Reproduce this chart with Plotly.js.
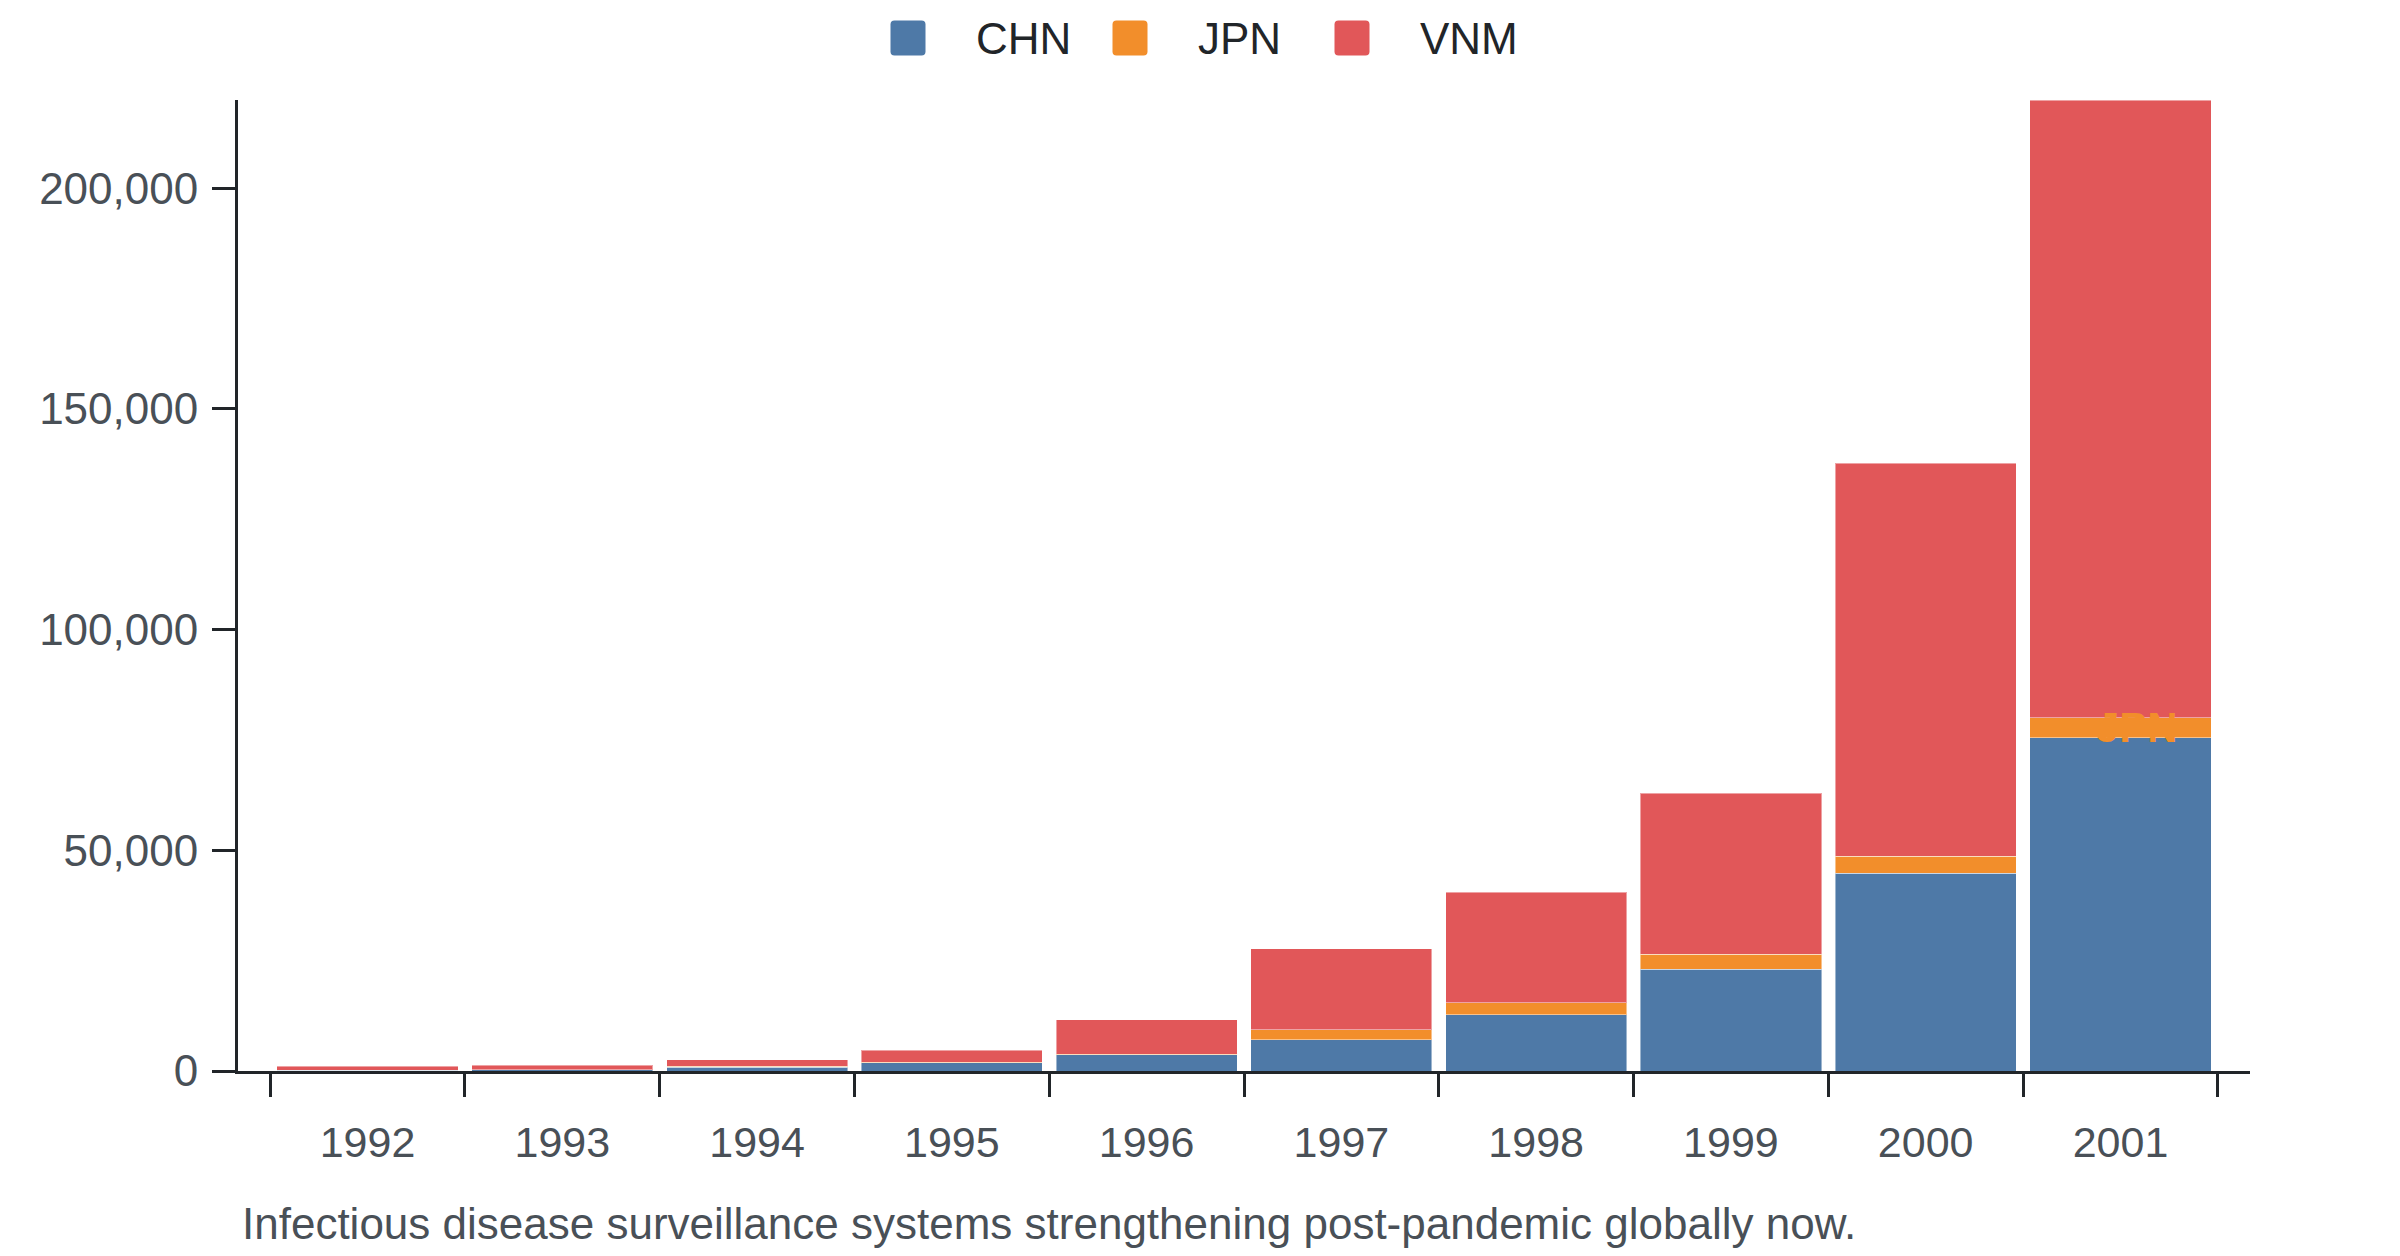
<!DOCTYPE html>
<html>
<head>
<meta charset="utf-8">
<script src="https://cdn.plot.ly/plotly-3.0.1.min.js"></script>
<style>
  html, body { margin: 0; padding: 0; background: #fff; }
  #chart { width: 2400px; height: 1256px; }
</style>
</head>
<body>
<div id="chart"></div>
<script>
let years = ["1992", "1993", "1994", "1995", "1996", "1997", "1998", "1999", "2000", "2001"]
let chn = [200, 300, 840, 1900, 3660, 7050, 12700, 23000, 44800, 75500]
let jpn = [20, 30, 200, 100, 150, 2250, 2800, 3400, 3900, 4500]
let vnm = [840, 970, 1560, 2680, 7840, 18400, 25000, 36500, 89000, 140000]
let y_ticks = [0, 50000, 100000, 150000, 200000]
let series_names = ["CHN", "JPN", "VNM"]
let colors = ["#4e79a7", "#f28e2b", "#e15759"]
let caption = "Infectious disease surveillance systems strengthening post-pandemic globally now."

const W = 2400, H = 1256
const M = { l: 238, r: 150, t: 100, b: 185 }
const ink = "#212529"
const muted = "#495057"
const font_family = "Arial, 'Liberation Sans', sans-serif"

// pixel -> paper helpers for the hand-made legend
const px = (x) => (x - M.l) / (W - M.l - M.r)
const py = (y) => (H - M.b - y) / (H - M.t - M.b)

let data = [chn, jpn, vnm].map((vals, i) => ({
  x: years,
  y: vals,
  name: series_names[i],
  type: "bar",
  marker: {
    color: colors[i],
    line: { color: "rgba(255,255,255,0.45)", width: 1 },
  },
  hoverinfo: "x+y+name",
}))

// rounded square swatch, in pixels around its anchor
function swatch(s, r) {
  let h = s / 2
  return `M${-h + r},${-h} H${h - r} Q${h},${-h} ${h},${-h + r} V${h - r} Q${h},${h} ${h - r},${h}` +
    ` H${-h + r} Q${-h},${h} ${-h},${h - r} V${-h + r} Q${-h},${-h} ${-h + r},${-h} Z`
}

// legend: swatch + label per series
let legend_x = [908, 1130, 1352]
let shapes = []
let annotations = []
series_names.forEach((name, i) => {
  shapes.push({
    type: "path",
    xref: "paper", yref: "paper",
    xsizemode: "pixel", ysizemode: "pixel",
    xanchor: px(legend_x[i]), yanchor: py(38),
    path: swatch(35, 4),
    fillcolor: colors[i],
    line: { width: 0 },
  })
  annotations.push({
    xref: "paper", yref: "paper",
    x: px(legend_x[i] + 66), y: py(38),
    xanchor: "left", yanchor: "middle",
    text: name,
    showarrow: false,
    font: { family: font_family, size: 44, color: ink },
  })
})

// label sitting on the JPN segment of the last bar
let last = years.length - 1
annotations.push({
  x: last,
  y: chn[last] + jpn[last] / 2,
  xref: "x", yref: "y",
  text: "<b>JPN</b>",
  showarrow: false,
  xshift: 17,
  font: { family: font_family, size: 42, color: colors[1] },
})

annotations.push({
  xref: "paper", yref: "paper",
  x: 0, y: 0,
  xanchor: "left", yanchor: "middle",
  yshift: -152,
  xshift: 2,
  text: caption,
  showarrow: false,
  font: { family: font_family, size: 44, color: muted },
})

let layout = {
  width: W,
  height: H,
  margin: M,
  barmode: "stack",
  bargap: 0.07,
  showlegend: false,
  paper_bgcolor: "#fff",
  plot_bgcolor: "#fff",
  font: { family: font_family, size: 44, color: muted },
  xaxis: {
    type: "category",
    range: [-0.665, 9.665],
    tickson: "boundaries",
    ticks: "outside",
    ticklen: 23,
    tickwidth: 3,
    tickcolor: ink,
    showline: true,
    linewidth: 3,
    linecolor: ink,
    showgrid: false,
    zeroline: false,
    ticklabelstandoff: 31,
    tickfont: { family: font_family, size: 43, color: muted },
  },
  yaxis: {
    range: [0, 220000],
    tickvals: y_ticks,
    tickformat: ",",
    ticks: "outside",
    ticklen: 23,
    tickwidth: 3,
    tickcolor: ink,
    showline: true,
    linewidth: 3,
    linecolor: ink,
    showgrid: false,
    zeroline: false,
    ticklabelstandoff: 5,
    tickfont: { family: font_family, size: 44, color: muted },
  },
  shapes: shapes,
  annotations: annotations,
}

Plotly.newPlot("chart", data, layout, {
  displaylogo: false,
  displayModeBar: false,
  staticPlot: true,
})
</script>
</body>
</html>
